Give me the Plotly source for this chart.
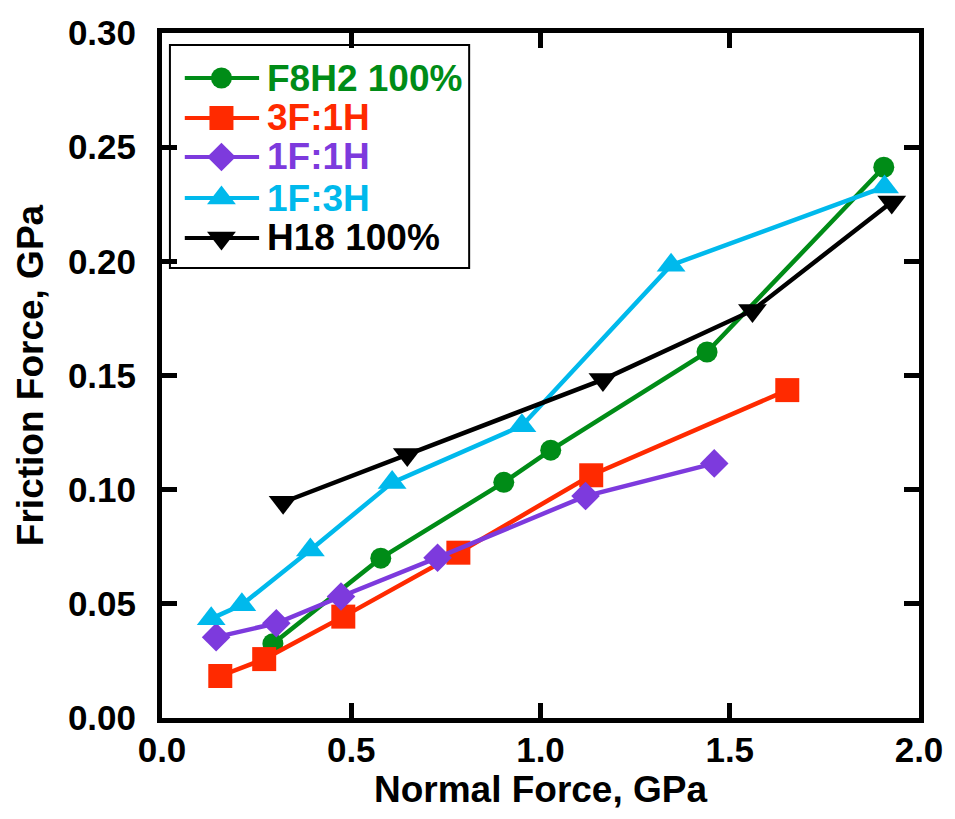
import plotly.graph_objects as go

# Normal force (GPa) and friction force (GPa) for each monolayer composition
names = ["F8H2 100%", "3F:1H", "1F:1H", "1F:3H", "H18 100%"]

f8h2_x = [0.293, 0.578, 0.903, 1.027, 1.440, 1.907]
f8h2_y = [0.0325, 0.0700, 0.1032, 0.1173, 0.1603, 0.2412]

f3h1_x = [0.154, 0.270, 0.479, 0.783, 1.134, 1.652]
f3h1_y = [0.0184, 0.0258, 0.0444, 0.0724, 0.1063, 0.1436]

f1h1_x = [0.143, 0.302, 0.473, 0.728, 1.119, 1.459]
f1h1_y = [0.0354, 0.0415, 0.0532, 0.0702, 0.0972, 0.1115]

f1h3_x = [0.130, 0.211, 0.392, 0.608, 0.951, 1.345, 1.909]
f1h3_y = [0.0435, 0.0496, 0.0736, 0.1031, 0.1280, 0.1983, 0.2326]

h18_x = [0.320, 0.648, 1.165, 1.560, 1.928]
h18_y = [0.0945, 0.1154, 0.1482, 0.1785, 0.2260]

x_ticks = [0.0, 0.5, 1.0, 1.5, 2.0]
y_ticks = [0.00, 0.05, 0.10, 0.15, 0.20, 0.25, 0.30]

colors = ["#008C17", "#FF2A00", "#7D3ADD", "#00B9EC", "#000000"]
symbols = ["circle", "square", "diamond", "triangle-up", "triangle-down"]
sizes = [21, 24, 22, 25, 25]

series = [
    (f8h2_x, f8h2_y),
    (f3h1_x, f3h1_y),
    (f1h1_x, f1h1_y),
    (f1h3_x, f1h3_y),
    (h18_x, h18_y),
]

W, H = 955, 819
ML, MR, MT, MB = 162, 29, 33, 101
PW, PH = W - ML - MR, H - MT - MB

FONT = "Liberation Sans, Arial, Helvetica, sans-serif"


def px_x(x):
    return (x - ML) / PW


def px_y(y):
    return (H - MB - y) / PH


fig = go.Figure()

for (xs, ys), name, c, s, sz in zip(series, names, colors, symbols, sizes):
    fig.add_trace(go.Scatter(
        x=xs, y=ys, name=name, mode="lines+markers",
        line=dict(color=c, width=4.5),
        marker=dict(symbol=s, size=sz, color=c, opacity=1, line=dict(width=0)),
        cliponaxis=False, showlegend=False,
    ))

# Hand-drawn legend box with long sample lines and full-size markers
leg_left, leg_top, leg_right, leg_bottom = 170, 45, 472, 268
row_y = [78, 118, 157, 198, 238]
line_x0, line_xm, line_x1, text_x = 185, 222, 260, 266

shapes = [dict(type="rect", xref="paper", yref="paper",
               x0=px_x(leg_left), x1=px_x(leg_right),
               y0=px_y(leg_bottom), y1=px_y(leg_top),
               line=dict(color="black", width=2), fillcolor="white", layer="below")]

annotations = []
for name, c, s, sz, ry in zip(names, colors, symbols, sizes, row_y):
    # sample line
    fig.add_trace(go.Scatter(
        x=[px_x(line_x0), px_x(line_x1)],
        y=[px_y(ry)] * 2,
        xaxis="x2", yaxis="y2", mode="lines",
        line=dict(color=c, width=4),
        cliponaxis=False, showlegend=False, hoverinfo="skip",
    ))
    # sample marker
    fig.add_trace(go.Scatter(
        x=[px_x(line_xm)], y=[px_y(ry)],
        xaxis="x2", yaxis="y2", mode="markers",
        marker=dict(symbol=s, size=sz, color=c, opacity=1, line=dict(width=0)),
        cliponaxis=False, showlegend=False, hoverinfo="skip",
    ))
    annotations.append(dict(
        xref="paper", yref="paper", x=px_x(text_x), y=px_y(ry),
        xanchor="left", yanchor="middle", showarrow=False,
        text=name, font=dict(family=FONT, size=37, color=c, weight="bold"),
    ))

axis_common = dict(
    showline=True, linecolor="black", linewidth=5, mirror="allticks",
    ticks="inside", ticklen=15, tickwidth=5, tickcolor="black",
    showgrid=False, zeroline=False,
    tickfont=dict(family=FONT, size=35, color="black", weight="bold"),
)

fig.update_layout(
    width=W, height=H,
    margin=dict(l=ML, r=MR, t=MT, b=MB),
    plot_bgcolor="white", paper_bgcolor="white",
    showlegend=False,
    xaxis=dict(
        range=[0, 2.0], tickvals=x_ticks, tickformat=".1f",
        title=dict(text="Normal Force, GPa", standoff=10,
                   font=dict(family=FONT, size=37, color="black", weight="bold")),
        ticklabelstandoff=-3,
        **axis_common,
    ),
    yaxis=dict(
        range=[0, 0.30], tickvals=y_ticks, tickformat=".2f",
        title=dict(text="Friction Force, GPa", standoff=14,
                   font=dict(family=FONT, size=37, color="black", weight="bold")),
        ticklabelstandoff=14,
        **axis_common,
    ),
    xaxis2=dict(domain=[0, 1], range=[0, 1], overlaying="x", anchor="y2", visible=False),
    yaxis2=dict(domain=[0, 1], range=[0, 1], overlaying="y", anchor="x2", visible=False),
    shapes=shapes,
    annotations=annotations,
)

fig.write_html("out.html")
